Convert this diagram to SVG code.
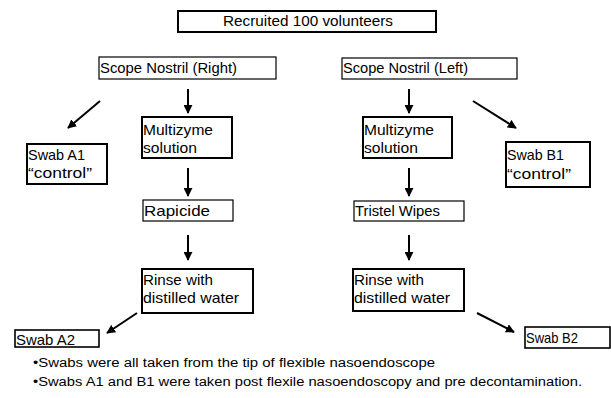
<svg xmlns="http://www.w3.org/2000/svg" width="611" height="398" viewBox="0 0 611 398">
<defs>
<marker id="ah" viewBox="0 0 10 10" refX="9" refY="5" markerWidth="4.5" markerHeight="4.5" orient="auto" markerUnits="strokeWidth">
<path d="M0,0 L10,5 L0,10 z" fill="#000"/>
</marker>
<style>
.b{fill:#fff;stroke:#000;stroke-width:2}
.t{fill:#fff;stroke:#000;stroke-width:1.2}
.l{font-family:"Liberation Sans",Arial,sans-serif;font-size:15px;fill:#000}
.n{font-family:"Liberation Sans",Arial,sans-serif;font-size:12.5px;fill:#000}
.c{stroke:#000;stroke-width:2;fill:none;marker-end:url(#ah)}
</style>
</defs>
<rect width="611" height="398" fill="#fff"/>
<g id="recruited"><rect class="b" x="178" y="11" width="258" height="21"/><text class="l" x="223" y="26" textLength="170" lengthAdjust="spacingAndGlyphs">Recruited 100 volunteers</text></g>
<g id="scope-right"><rect class="t" x="99" y="57" width="177" height="22"/><text class="l" x="100" y="73" textLength="137" lengthAdjust="spacingAndGlyphs">Scope Nostril (Right)</text></g>
<g id="scope-left"><rect class="t" x="342" y="58" width="175" height="21"/><text class="l" x="343" y="73" textLength="125" lengthAdjust="spacingAndGlyphs">Scope Nostril (Left)</text></g>
<g id="swab-a1"><rect class="b" x="27" y="144" width="80" height="40"/><text class="l" x="28" y="160" textLength="57" lengthAdjust="spacingAndGlyphs">Swab A1</text><text class="l" x="28" y="178" textLength="64" lengthAdjust="spacingAndGlyphs">“control”</text></g>
<g id="multizyme-right"><rect class="b" x="142" y="117" width="90" height="41"/><text class="l" x="143" y="135" textLength="70" lengthAdjust="spacingAndGlyphs">Multizyme</text><text class="l" x="143" y="153" textLength="54" lengthAdjust="spacingAndGlyphs">solution</text></g>
<g id="rapicide"><rect class="t" x="143" y="200" width="90" height="21"/><text class="l" x="144" y="216" textLength="66" lengthAdjust="spacingAndGlyphs">Rapicide</text></g>
<g id="rinse-right"><rect class="b" x="142" y="269" width="111" height="44"/><text class="l" x="143" y="285" textLength="70" lengthAdjust="spacingAndGlyphs">Rinse with</text><text class="l" x="143" y="303" textLength="96" lengthAdjust="spacingAndGlyphs">distilled water</text></g>
<g id="swab-a2"><rect class="t" x="15" y="330" width="84" height="17" style="stroke-width:1.6"/><text class="l" x="16" y="345" textLength="59" lengthAdjust="spacingAndGlyphs">Swab A2</text></g>
<g id="multizyme-left"><rect class="b" x="363" y="117" width="89" height="41"/><text class="l" x="364" y="135" textLength="70" lengthAdjust="spacingAndGlyphs">Multizyme</text><text class="l" x="364" y="153" textLength="54" lengthAdjust="spacingAndGlyphs">solution</text></g>
<g id="swab-b1"><rect class="b" x="506" y="142" width="84" height="45"/><text class="l" x="507" y="160" textLength="57" lengthAdjust="spacingAndGlyphs">Swab B1</text><text class="l" x="507" y="179" textLength="64" lengthAdjust="spacingAndGlyphs">“control”</text></g>
<g id="tristel"><rect class="t" x="354" y="201" width="110" height="20"/><text class="l" x="355" y="216" textLength="85" lengthAdjust="spacingAndGlyphs">Tristel Wipes</text></g>
<g id="rinse-left"><rect class="b" x="353" y="269" width="111" height="42"/><text class="l" x="354" y="285" textLength="70" lengthAdjust="spacingAndGlyphs">Rinse with</text><text class="l" x="354" y="303" textLength="96" lengthAdjust="spacingAndGlyphs">distilled water</text></g>
<g id="swab-b2"><rect class="t" x="525" y="327" width="85" height="21" style="stroke-width:1.6"/><text class="l" x="526" y="343" textLength="52" lengthAdjust="spacingAndGlyphs">Swab B2</text></g>
<g id="connectors">
<line class="c" x1="188" y1="89" x2="188" y2="113"/>
<line class="c" x1="100" y1="101" x2="68" y2="128"/>
<line class="c" x1="188" y1="168" x2="188" y2="196"/>
<line class="c" x1="188" y1="235" x2="188" y2="260"/>
<line class="c" x1="137" y1="313" x2="107" y2="333"/>
<line class="c" x1="409" y1="89" x2="409" y2="113"/>
<line class="c" x1="473" y1="101" x2="516" y2="128"/>
<line class="c" x1="409" y1="168" x2="409" y2="196"/>
<line class="c" x1="409" y1="235" x2="409" y2="260"/>
<line class="c" x1="477" y1="313" x2="514" y2="332"/>
</g>
<g id="notes">
<text class="n" x="33" y="367" textLength="402" lengthAdjust="spacingAndGlyphs">•Swabs were all taken from the tip of flexible nasoendoscope</text>
<text class="n" x="33" y="386" textLength="549" lengthAdjust="spacingAndGlyphs">•Swabs A1 and B1 were taken post flexile nasoendoscopy and pre decontamination.</text>
</g>
</svg>
